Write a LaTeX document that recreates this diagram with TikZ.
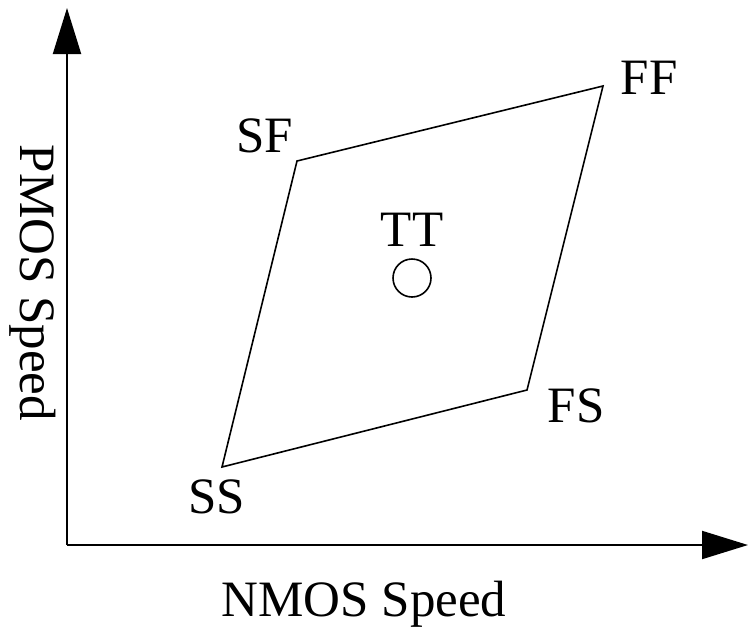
\documentclass[tikz,border=0pt]{standalone}
\usepackage{fontspec}
\setmainfont{Liberation Serif}
\usetikzlibrary{arrows.meta,positioning}
\tikzset{
  axis/.style={line width=1pt,-{Triangle[length=23pt,width=14pt]}},
  edge/.style={line width=0.8pt,line join=miter},
  lbl/.style={font=\fontsize{25.5}{30}\selectfont,inner sep=0pt},
}
\begin{document}
\begin{tikzpicture}[x=0.5pt,y=-0.5pt]
  \useasboundingbox (0,0) rectangle (748,632);

  % --- axes ---------------------------------------------------------------
  \coordinate (o)  at (67,545);
  \coordinate (xe) at (748,545);
  \coordinate (ye) at (67,8);
  \draw[axis] (o) -- (xe);
  \draw[axis] (o) -- (ye);
  \node[lbl] (nx) at (364,604) {NMOS Speed};
  \node[lbl,rotate=-90] (ny) at (33,283) {PMOS Speed};

  % --- corners ------------------------------------------------------------
  \coordinate (ss) at (222,467);
  \coordinate (sf) at (297,161);
  \coordinate (ff) at (603,86);
  \coordinate (fs) at (527,390);
  \draw[edge] (ss) -- (sf) -- (ff) -- (fs) -- cycle;

  \node[lbl] (lss) at (217,497) {SS};
  \node[lbl] (lsf) at (265,136) {SF};
  \node[lbl] (lff) at (649,78)  {FF};
  \node[lbl] (lfs) at (576,406) {FS};

  % typical corner
  \node[draw,circle,line width=0.8pt,minimum size=19pt,inner sep=0pt] (tt) at (412,278) {};
  \node[lbl] (ltt) at (412,230) {TT};
\end{tikzpicture}
\end{document}
